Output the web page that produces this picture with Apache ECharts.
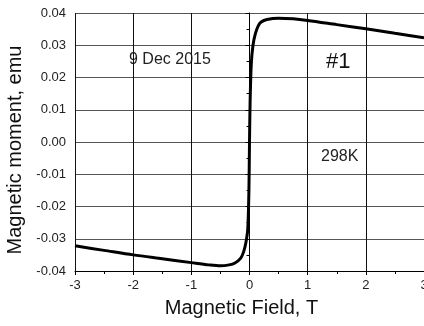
<!DOCTYPE html>
<html>
<head>
<meta charset="utf-8">
<script src="https://cdn.jsdelivr.net/npm/echarts@6/dist/echarts.min.js"></script>
<style>
  html, body { margin: 0; padding: 0; background: #fff; }
  #main { width: 424px; height: 326px; }
</style>
</head>
<body>
<div id="main"></div>
<script>
    var fieldT = [-3, -2.5, -2, -1.5, -1, -0.7, -0.5, -0.35, -0.25, -0.15, -0.1, -0.06, -0.03, -0.01, 0,
        0.01, 0.03, 0.06, 0.1, 0.15, 0.2, 0.3, 0.5, 0.75, 1, 1.5, 2, 2.5, 3];
    var momentEmu = [-0.0322, -0.0336, -0.0350, -0.0362, -0.0374, -0.0381, -0.0384, -0.0381, -0.0375, -0.0360, -0.0340, -0.0310, -0.0270, -0.0150, 0,
        0.0120, 0.0240, 0.0300, 0.0335, 0.0360, 0.0372, 0.0380, 0.0384, 0.0382, 0.0377, 0.0364, 0.0351, 0.0337, 0.0323];
    var notes = ['9 Dec 2015', '#1', '298K'];

    var myChart = echarts.init(document.getElementById('main'));

    var points = [];
    for (var i = 0; i < fieldT.length; i++) {
        points.push([fieldT[i], momentEmu[i]]);
    }

    var font = 'Arial, "Liberation Sans", sans-serif';

    myChart.setOption({
        backgroundColor: '#fff',
        animation: false,
        grid: {
            left: 75,
            right: 0,
            top: 13,
            bottom: 55,
            outerBoundsMode: 'none'
        },
        xAxis: {
            type: 'value',
            min: -3,
            max: 3,
            interval: 1,
            name: 'Magnetic Field, T',
            nameLocation: 'middle',
            nameGap: 27,
            nameTextStyle: { fontFamily: font, fontSize: 20, color: '#111', padding: [0, 16, 0, 0] },
            axisLine: { show: true, onZero: false, lineStyle: { color: '#000', width: 1 } },
            axisTick: { show: true, length: 4, lineStyle: { color: '#000' } },
            minorTick: { show: true, splitNumber: 2, length: 3, lineStyle: { color: '#000' } },
            axisLabel: { fontFamily: font, fontSize: 13, color: '#222', margin: 8 },
            splitLine: { show: true, lineStyle: { color: '#111', width: 1 } }
        },
        yAxis: {
            type: 'value',
            min: -0.04,
            max: 0.04,
            interval: 0.01,
            name: 'Magnetic moment, emu',
            nameLocation: 'middle',
            nameGap: 47,
            nameTextStyle: { fontFamily: font, fontSize: 20, color: '#111', padding: [0, 16, 0, 0] },
            axisLine: { show: true, lineStyle: { color: '#000', width: 1 } },
            axisTick: { show: true, length: 4, lineStyle: { color: '#000' } },
            minorTick: { show: true, splitNumber: 2, length: 3, lineStyle: { color: '#000' } },
            axisLabel: {
                fontFamily: font, fontSize: 13, color: '#222', margin: 9,
                formatter: function (v) { return v.toFixed(2); }
            },
            splitLine: { show: true, lineStyle: { color: '#555', width: 1 } }
        },
        graphic: [{
            type: 'text', left: 129, top: 52,
            style: { text: notes[0], font: '16px ' + font, fill: '#222' }
        }, {
            type: 'text', left: 326, top: 51,
            style: { text: notes[1], font: '22px ' + font, fill: '#111' }
        }, {
            type: 'text', left: 321, top: 149,
            style: { text: notes[2], font: '16px ' + font, fill: '#222' }
        }],
        series: [{
            type: 'line',
            data: points,
            showSymbol: false,
            smooth: 0.3,
            lineStyle: { color: '#000', width: 3 }
        }]
    });
</script>
</body>
</html>
